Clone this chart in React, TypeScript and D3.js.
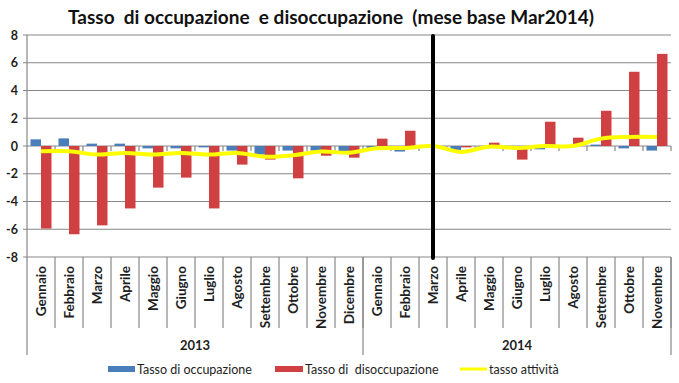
import React from "react";
import * as d3 from "d3";

const months = ["Gennaio","Febbraio","Marzo","Aprile","Maggio","Giugno","Luglio","Agosto","Settembre","Ottobre","Novembre","Dicembre","Gennaio","Febbraio","Marzo","Aprile","Maggio","Giugno","Luglio","Agosto","Settembre","Ottobre","Novembre"];
const years = [{ label: "2013", from: 0, to: 12 }, { label: "2014", from: 12, to: 23 }];
const occupazione = [0.48,0.55,0.17,0.17,-0.17,-0.17,-0.1,-0.33,-0.62,-0.33,-0.33,-0.4,-0.17,-0.4,0,-0.31,-0.07,-0.05,-0.24,0.03,0.1,-0.17,-0.33];
const disoccupazione = [-5.95,-6.36,-5.72,-4.5,-3.0,-2.28,-4.5,-1.34,-0.98,-2.33,-0.7,-0.84,0.53,1.1,0,-0.1,0.24,-0.98,1.75,0.6,2.54,5.35,6.64];
const attivita = [-0.38,-0.38,-0.62,-0.5,-0.62,-0.5,-0.62,-0.5,-0.77,-0.67,-0.4,-0.48,-0.17,-0.14,0,-0.43,-0.05,-0.14,0,0,0.53,0.65,0.65];
const yTicks = [-8,-6,-4,-2,0,2,4,6,8];
const baseIndex = 14;

const W = 679, H = 383;
const left = 27, right = 671, top = 35, bottom = 257;
const font = "Lato, 'Open Sans', sans-serif";

export default function App() {
  const idx = months.map((_, i) => i);
  const x = d3.scaleBand<number>().domain(idx).range([left, right]).paddingInner(0).paddingOuter(0);
  const x1 = d3.scaleBand<string>().domain(["occ", "dis"]).range([0, x.bandwidth()]).paddingInner(0).paddingOuter(0.333);
  const y = d3.scaleLinear().domain([-8, 8]).range([bottom, top]);
  const line = d3.line<number>().x((_, i) => (x(i) as number) + x.bandwidth() / 2).y((d) => y(d)).curve(d3.curveCatmullRom.alpha(0.5));
  const grid = "#878787";
  const textCol = "#1e1e1e";
  const bw = x.bandwidth();
  return (
    <svg width={W} height={H} style={{ position: "absolute", left: 0, top: 0, background: "#fff" }}>
      <text x={331} y={24} textAnchor="middle" fontFamily={font} fontWeight="bold" fontSize={19} fill="#111" style={{ whiteSpace: "pre" }}>Tasso  di occupazione  e disoccupazione  (mese base Mar2014)</text>
      {yTicks.map((t) => (
        <g key={t}>
          <line x1={left - 4} x2={right} y1={y(t)} y2={y(t)} stroke={grid} strokeWidth={1.2} />
          <text x={18} y={y(t) + 4.5} textAnchor="end" fontFamily={font} fontWeight="bold" fontSize={12.5} fill={textCol}>{t}</text>
        </g>
      ))}
      <line x1={left} x2={left} y1={top} y2={355} stroke={grid} strokeWidth={1.2} />
      {idx.map((i) => (
        <line key={"t" + i} x1={(x(i) as number) + bw} x2={(x(i) as number) + bw} y1={y(0)} y2={y(0) + 5} stroke={grid} strokeWidth={1.2} />
      ))}
      {idx.map((i) => (
        <line key={"s" + i} x1={(x(i) as number) + bw} x2={(x(i) as number) + bw} y1={bottom} y2={328} stroke={grid} strokeWidth={1.2} />
      ))}
      {years.map((g) => (
        <g key={g.label}>
          <line x1={(x(g.to - 1) as number) + bw} x2={(x(g.to - 1) as number) + bw} y1={bottom} y2={355} stroke={grid} strokeWidth={1.2} />
          <text x={((x(g.from) as number) + (x(g.to - 1) as number) + bw) / 2} y={350} textAnchor="middle" fontFamily={font} fontWeight="bold" fontSize={13} fill={textCol}>{g.label}</text>
        </g>
      ))}
      {idx.map((i) => (
        <g key={"b" + i}>
          <rect x={(x(i) as number) + (x1("occ") as number)} width={x1.bandwidth()} y={Math.min(y(0), y(occupazione[i]))} height={Math.abs(y(occupazione[i]) - y(0))} fill="#4a7ebb" />
          <rect x={(x(i) as number) + (x1("dis") as number)} width={x1.bandwidth()} y={Math.min(y(0), y(disoccupazione[i]))} height={Math.abs(y(disoccupazione[i]) - y(0))} fill="#d04042" />
        </g>
      ))}
      <path d={line(attivita) || ""} fill="none" stroke="#ffff00" strokeWidth={4} />
      <line x1={(x(baseIndex) as number) + bw / 2} x2={(x(baseIndex) as number) + bw / 2} y1={top + 1} y2={bottom + 1} stroke="#000" strokeWidth={4} strokeLinecap="round" />
      {idx.map((i) => {
        const cx = (x(i) as number) + bw / 2;
        return (
          <text key={"m" + i} transform={`translate(${cx + 4.5},266) rotate(-90)`} textAnchor="end" fontFamily={font} fontWeight="bold" fontSize={13.5} fill={textCol}>{months[i]}</text>
        );
      })}
      <rect x={108} y={366} width={27} height={6} fill="#4a7ebb" />
      <text x={137} y={373.5} fontFamily={font} fontSize={12.5} fill={textCol}>Tasso di occupazione</text>
      <rect x={275} y={366} width={28} height={6} fill="#d04042" />
      <text x={305} y={373.5} fontFamily={font} fontSize={12.5} fill={textCol} style={{ whiteSpace: "pre" }}>Tasso di  disoccupazione</text>
      <line x1={460} x2={487} y1={369} y2={369} stroke="#ffff00" strokeWidth={3} />
      <text x={489} y={373.5} fontFamily={font} fontSize={12.5} fill={textCol}>tasso attività</text>
    </svg>
  );
}
